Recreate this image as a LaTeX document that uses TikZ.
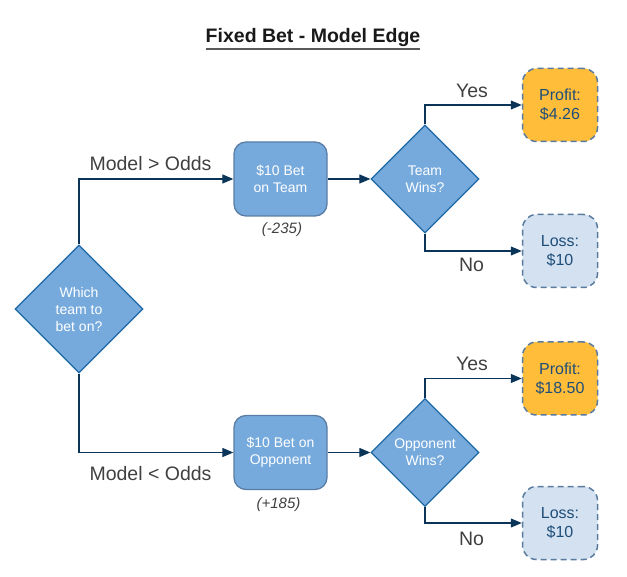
\documentclass[tikz,border=0pt]{standalone}
\usepackage{fontspec}
\setmainfont{Liberation Sans}
\usetikzlibrary{shapes.geometric,arrows.meta}
\definecolor{boxfill}{HTML}{76AADD}
\definecolor{boxline}{HTML}{5A7DA6}
\definecolor{dialine}{HTML}{1E68A4}
\definecolor{arrowc}{HTML}{0B3558}
\definecolor{profitfill}{HTML}{FFBD3A}
\definecolor{lossfill}{HTML}{D3E1F1}
\definecolor{dashline}{HTML}{5A7B9E}
\definecolor{darktext}{HTML}{1F4E79}
\definecolor{labgrey}{HTML}{404040}
\tikzset{
  betbox/.style={draw=boxline, line width=1.3pt, fill=boxfill, rounded corners=12pt,
    minimum width=93pt, minimum height=74pt, inner sep=0pt, align=center,
    text=white, font=\fontsize{14}{17}\selectfont},
  decision/.style={diamond, draw=dialine, line width=1.3pt, fill=boxfill,
    inner sep=0pt, align=center, text=white, font=\fontsize{14}{17}\selectfont},
  outcome/.style={draw=dashline, line width=1.5pt, dash pattern=on 6pt off 4pt,
    rounded corners=14pt, minimum width=75pt, minimum height=73pt, inner sep=0pt,
    align=center, text=darktext, font=\fontsize{16}{19}\selectfont},
  profitbox/.style={outcome, fill=profitfill},
  lossbox/.style={outcome, fill=lossfill},
  conn/.style={draw=arrowc, line width=1.2pt, -{Triangle[length=11pt,width=9pt]}},
  lab/.style={text=labgrey, font=\fontsize{19.5}{22}\selectfont, anchor=base, inner sep=0pt},
  oddslab/.style={text=labgrey, font=\fontsize{15}{18}\selectfont\itshape, anchor=base, inner sep=0pt}
}
\begin{document}
\begin{tikzpicture}[x=1pt,y=-1pt]
\useasboundingbox (0,0) rectangle (627,577);
% title
\node[anchor=base, inner sep=0pt, font=\fontsize{19.5}{22}\selectfont\bfseries, text=black!90] (title) at (313,43) {Fixed Bet - Model Edge};
\draw[line width=1.2pt, draw=black!65] ([yshift=-6pt]title.base west) -- ([yshift=-6pt]title.base east);
% nodes
\node[decision, minimum width=128pt, minimum height=128pt] (q) at (79,309) {Which\\team to\\bet on?};
\node[betbox] (b1) at (280.5,179) {\$10 Bet\\on Team};
\node[betbox] (b2) at (280.5,452.5) {\$10 Bet on\\Opponent};
\node[decision, minimum width=108pt, minimum height=108pt] (d1) at (425,179) {Team\\Wins?};
\node[decision, minimum width=108pt, minimum height=108pt] (d2) at (425,452.5) {Opponent\\Wins?};
\node[profitbox] (p1) at (560,105) {Profit:\\\$4.26};
\node[lossbox] (l1) at (560,251) {Loss:\\\$10};
\node[profitbox] (p2) at (560,378.5) {Profit:\\\$18.50};
\node[lossbox] (l2) at (560,523) {Loss:\\\$10};
% connectors
\draw[conn] (q.north) |- (b1.west);
\draw[conn] (q.south) |- (b2.west);
\draw[conn] (b1.east) -- (d1.west);
\draw[conn] (b2.east) -- (d2.west);
\draw[conn] (d1.north) |- (p1.west);
\draw[conn] (d1.south) |- (l1.west);
\draw[conn] (d2.north) |- (p2.west);
\draw[conn] (d2.south) |- (l2.west);
% labels
\node[lab] (m1) at (150.5,171) {Model > Odds};
\node[lab] (m2) at (150.5,480) {Model < Odds};
\node[lab] (y1) at (472,98) {Yes};
\node[lab] (n1) at (471.5,272) {No};
\node[lab] (y2) at (472,371) {Yes};
\node[lab] (n2) at (471.5,545) {No};
\node[oddslab] (o1) at (282,234) {(-235)};
\node[oddslab] (o2) at (278.5,508) {(+185)};
\end{tikzpicture}
\end{document}
